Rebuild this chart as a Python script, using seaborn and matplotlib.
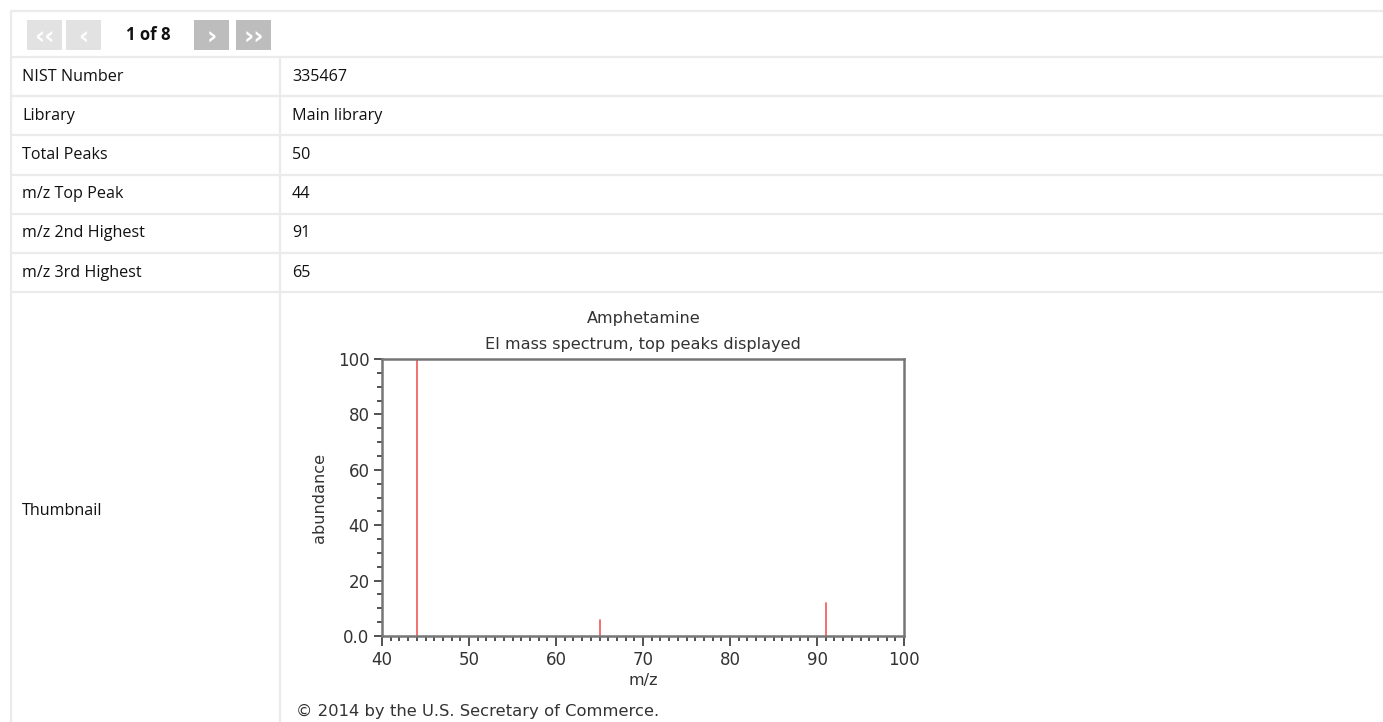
import matplotlib
matplotlib.use("Agg")
import matplotlib.pyplot as plt
import seaborn as sns
import pandas as pd
from matplotlib.patches import Rectangle
from matplotlib.ticker import MultipleLocator

# ---- data ----
row_labels = ["NIST Number", "Library", "Total Peaks", "m/z Top Peak",
              "m/z 2nd Highest", "m/z 3rd Highest", "Thumbnail"]
row_values = ["335467", "Main library", "50", "44", "91", "65", ""]
peak_mz = [44, 65, 91]
peak_abundance = [100, 5.8, 11.9]
title_line1 = "Amphetamine"
title_line2 = "EI mass spectrum, top peaks displayed"
x_label = "m/z"
y_label = "abundance"
x_ticks = [40, 50, 60, 70, 80, 90, 100]
y_ticks = [0, 20, 40, 60, 80, 100]
y_tick_labels = ["0.0", "20", "40", "60", "80", "100"]
pager_text = "1 of 8"
pager_glyphs = ["\u2039\u2039", "\u2039", "\u203a", "\u203a\u203a"]
copyright_text = "\u00a9 2014 by the U.S. Secretary of Commerce."

sns.set_style("white")
plt.rcParams['font.family'] = ['Open Sans', 'DejaVu Sans']

W, H = 1383, 722
fig = plt.figure(figsize=(W / 100, H / 100), dpi=100)

# background canvas in pixel coordinates
bg = fig.add_axes([0, 0, 1, 1])
bg.set_xlim(0, W)
bg.set_ylim(H, 0)
bg.axis("off")

line_col = "#ebebeb"
lw_tab = 1.6
bg.plot([11, W + 5], [11, 11], color=line_col, lw=lw_tab)
bg.plot([11, 11], [11, H + 5], color=line_col, lw=lw_tab)
bg.plot([11, W + 5], [57, 57], color=line_col, lw=lw_tab)

# pager buttons
btn_x = [27, 66, 194, 236]
btn_col = ["#e2e2e2", "#e2e2e2", "#bdbdbd", "#bdbdbd"]
for bx, glyph, col in zip(btn_x, pager_glyphs, btn_col):
    bg.add_patch(Rectangle((bx, 20), 35, 30, facecolor=col, edgecolor="none"))
    bg.text(bx + 17.5, 35, glyph, color="white", ha="center", va="center_baseline",
            fontsize=18, fontweight="bold", family="DejaVu Sans")
bg.text(148, 35, pager_text, ha="center", va="center", fontsize=12,
        fontweight="bold", color="#111111")

# rows
row_top = 57
row_h = 39.2
for i, (lab, val) in enumerate(zip(row_labels, row_values)):
    y0 = row_top + i * row_h
    if i < len(row_labels) - 1:
        yc = y0 + row_h / 2
        bg.plot([11, W + 5], [y0 + row_h, y0 + row_h], color=line_col, lw=lw_tab)
    else:
        yc = 511
    bg.text(22, yc, lab, ha="left", va="center", fontsize=11.6, color="#111111")
    if val:
        bg.text(292, yc, val, ha="left", va="center", fontsize=11.6, color="#111111")
bg.plot([280, 280], [57, H + 5], color=line_col, lw=lw_tab)

# ---- the spectrum chart ----
ax_l, ax_r, ax_t, ax_b = 382, 904, 359, 636
ax = fig.add_axes([ax_l / W, 1 - ax_b / H, (ax_r - ax_l) / W, (ax_b - ax_t) / H])

rows = []
for k, (m, a) in enumerate(zip(peak_mz, peak_abundance)):
    rows.append({"mz": m, "ab": 0.0, "peak": k})
    rows.append({"mz": m, "ab": a, "peak": k})
df = pd.DataFrame(rows)
sns.lineplot(data=df, x="mz", y="ab", units="peak", estimator=None,
             color="#f26464", lw=1.3, ax=ax, sort=False)

cf = "DejaVu Sans"
ax.set_xlim(40, 100)
ax.set_ylim(0, 100)
ax.set_xticks(x_ticks)
ax.set_yticks(y_ticks)
ax.set_yticklabels(y_tick_labels)
ax.xaxis.set_minor_locator(MultipleLocator(1))
ax.yaxis.set_minor_locator(MultipleLocator(5))
ax.tick_params(axis="both", which="both", labelfontfamily=cf, labelsize=12,
               labelcolor="#333333")
ax.tick_params(axis="x", which="major", direction="out", length=7, width=1.2, color="#333333", pad=4)
ax.tick_params(axis="y", which="major", direction="out", length=6, width=1.2, color="#333333", pad=3)
ax.tick_params(axis="both", which="minor", direction="out", length=3.5, width=1.2, color="#333333")
ax.tick_params(bottom=True, left=True, which="both")
for s in ax.spines.values():
    s.set_visible(True)
    s.set_color("#767676")
    s.set_linewidth(1.8)
ax.set_xlabel(x_label, family=cf, fontsize=11.6, color="#333333", labelpad=3)
ax.set_ylabel(y_label, family=cf, fontsize=11.6, color="#333333", labelpad=8)

fig.text(644 / W, 1 - 319 / H, title_line1, ha="center", va="center",
         family=cf, fontsize=11.6, color="#333333")
fig.text(643 / W, 1 - 344 / H, title_line2, ha="center", va="center",
         family=cf, fontsize=11.6, color="#333333")
fig.text(296 / W, 1 - 711 / H, copyright_text, ha="left", va="center",
         family=cf, fontsize=11.8, color="#333333")

fig.savefig("out.png", dpi=100)
